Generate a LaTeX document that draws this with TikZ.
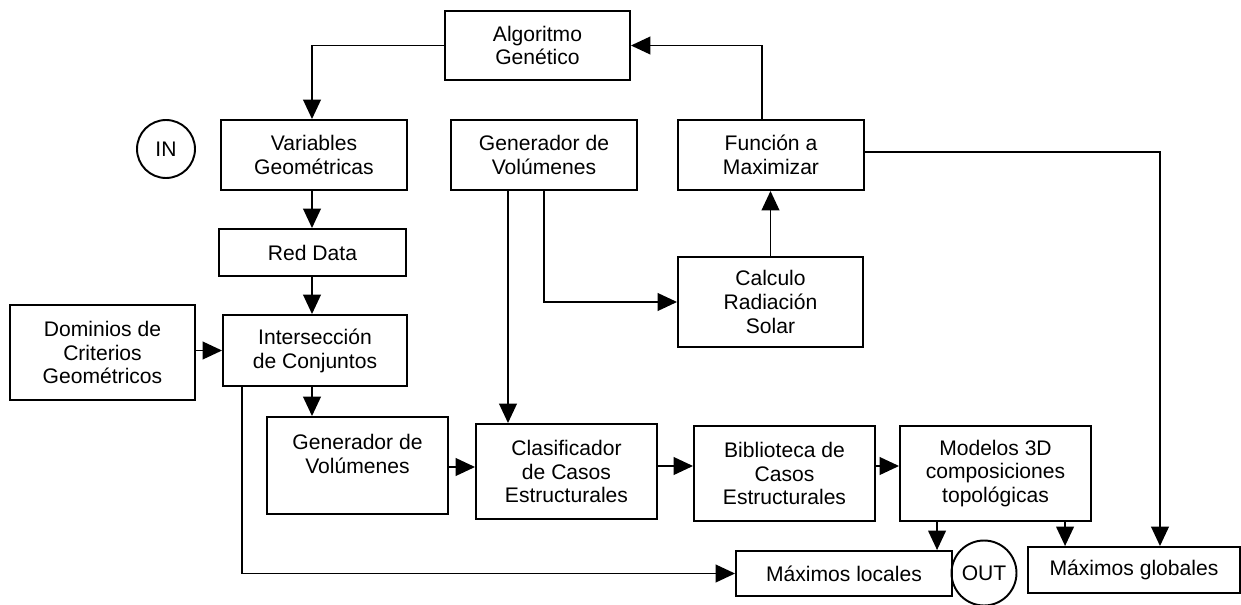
\documentclass[tikz,border=0pt]{standalone}
\usepackage{fontspec}
\setmainfont{Liberation Sans}
\usetikzlibrary{arrows.meta,calc}

\begin{document}
\begin{tikzpicture}[x=0.02cm,y=-0.02cm,line width=1.1pt,
  caja/.style={draw,align=center,inner sep=0pt,font=\fontsize{12}{13.6}\selectfont},
  circulo/.style={draw,circle,inner sep=0pt,font=\fontsize{12}{13.6}\selectfont},
  flecha/.style={-{Triangle[length=11pt,width=10pt]}}]
\useasboundingbox (0,0) rectangle (1241,605);
\node [caja,minimum width=3.7cm,minimum height=1.38cm] (alg) at (537.5,45.5) {Algoritmo\\Genético};
\node [circulo,minimum size=1.16cm] (in) at (166,149) {IN};
\node [caja,minimum width=3.72cm,minimum height=1.4cm] (var) at (314,155) {Variables\\Geométricas};
\node [caja,minimum width=3.74cm,minimum height=0.94cm] (red) at (312.5,252.5) {Red Data};
\node [caja,minimum width=3.7cm,minimum height=1.9cm] (dom) at (102.5,352.5) {Dominios de\\Criterios\\Geométricos};
\node [caja,minimum width=3.68cm,minimum height=1.42cm] (inter) at (315,350.5) {Intersección\\de Conjuntos};
\node [caja,minimum width=3.62cm,minimum height=1.94cm] (gen2) at (357.5,465.5) {Generador de\\Volúmenes\\\mbox{}};
\node [caja,minimum width=3.72cm,minimum height=1.4cm] (gen1) at (544,155) {Generador de\\Volúmenes};
\node [caja,minimum width=3.72cm,minimum height=1.4cm] (fun) at (771,155) {Función a\\Maximizar};
\node [caja,minimum width=3.7cm,minimum height=1.8cm] (calc) at (770.5,302) {Calculo\\Radiación\\Solar};
\node [caja,minimum width=3.62cm,minimum height=1.9cm] (clas) at (566.5,471.5) {Clasificador\\de Casos\\Estructurales};
\node [caja,minimum width=3.62cm,minimum height=1.9cm] (bib) at (784.5,473.5) {Biblioteca de\\Casos\\Estructurales};
\node [caja,minimum width=3.82cm,minimum height=1.9cm] (mod) at (995.5,473.5) {Modelos 3D\\composiciones\\topológicas};
\node [caja,minimum width=4.32cm,minimum height=0.9cm] (loc) at (844,573.5) {Máximos locales};
\node [circulo,minimum size=1.3cm] (out) at (984,573) {OUT};
\node [caja,minimum width=4.24cm,minimum height=0.92cm] (glob) at (1134,570) {Máximos globales};
\coordinate (a1) at ($(var.north)+(-2,0)$);
\coordinate (a2) at ($(inter.south west)+(20,0)$);
\coordinate (a3) at ($(gen1.south)+(-36,0)$);
\coordinate (a4) at ($(fun.north)+(-9,0)$);
\coordinate (a5) at ($(glob.north)+(26,0)$);
\coordinate (a6) at ($(mod.south west)+(38,0)$);
\coordinate (a7) at ($(mod.south west)+(166,0)$);
\coordinate (a8) at ($(clas.west)+(0,-4.5)$);
\coordinate (a9) at ($(bib.west)+(0,-7.5)$);
\draw [flecha] (alg.west) -| (a1);
\draw [flecha] (a1 |- var.south) -- (a1 |- red.north);
\draw [flecha] (a1 |- red.south) -- (a1 |- inter.north);
\draw [flecha] (dom.east |- inter.west) -- (inter.west);
\draw [flecha] (a1 |- inter.south) -- (a1 |- gen2.north);
\draw [flecha] (a2) |- (loc.west);
\draw [flecha] (a3) -- (a3 |- clas.north);
\draw [flecha] (gen1.south) |- (calc.west);
\draw [flecha] (calc.north) -- (calc.north |- fun.south);
\draw [flecha] (a4) |- (alg.east);
\draw [flecha] ($(fun.east)+(0,-3)$) -| (a5);
\draw [flecha] (gen2.east |- a8) -- (a8);
\draw [flecha] (clas.east |- a9) -- (a9);
\draw [flecha] (bib.east |- a9) -- (a9 -| mod.west);
\draw [flecha] (a6) -- (a6 |- loc.north);
\draw [flecha] (a7) -- (a7 |- glob.north);
\end{tikzpicture}
\end{document}
